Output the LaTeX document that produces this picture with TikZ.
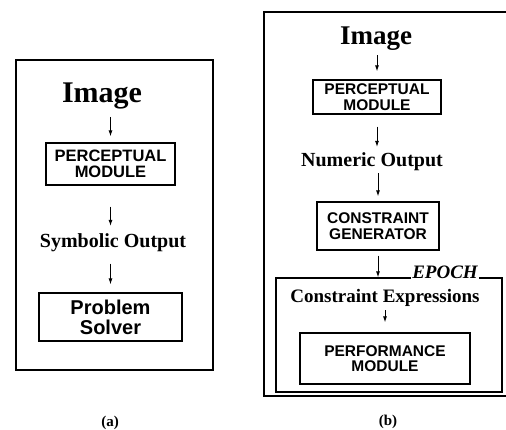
\documentclass[tikz,border=0pt]{standalone}
\usepackage{fontspec}
\setmainfont{Liberation Serif}
\setsansfont{Liberation Sans}
\usepackage{tikz}
\usetikzlibrary{arrows.meta,positioning}
\tikzset{
  mbox/.style={draw=black, line width=1.3pt, align=center, inner sep=0pt, font=\sffamily\bfseries\fontsize{15.5}{15.5}\selectfont},
  flbl/.style={inner sep=1pt, font=\bfseries\fontsize{20}{20}\selectfont},
  ilbl/.style={inner sep=1pt, anchor=base},
  farr/.style={-{Latex[length=6pt,width=4pt]}, line width=0.9pt},
  panel/.style={draw=black, line width=1.1pt}
}

\begin{document}
\begin{tikzpicture}[x=1pt,y=-1pt]
\clip (0,0) rectangle (506,430);
% (a)
\draw[panel] (16,60) rectangle (213,370);
\node[ilbl, font=\bfseries\fontsize{30}{30}\selectfont] (a1) at (102,103) {Image};
\node[mbox, minimum width=129pt, minimum height=42pt, font=\sffamily\bfseries\fontsize{16.5}{16.5}\selectfont] (a2) at (110.5,164) {PERCEPTUAL\\MODULE};
\node[flbl, anchor=base] (a3) at (113,248) {Symbolic Output};
\node[mbox, minimum width=143pt, minimum height=48pt, font=\sffamily\bfseries\fontsize{20}{20}\selectfont] (a4) at (110.5,317) {Problem\\Solver};
\node[font=\bfseries\fontsize{15}{15}\selectfont] (a5) at (110,423) {(a)};
\draw[farr, shorten <=6pt, shorten >=6pt] (a1.south -| a2.north) -- (a2.north);
\draw[farr, shorten <=21pt, shorten >=7pt] (a2.south) -- (a3.north -| a2.south);
\draw[farr, shorten <=10pt, shorten >=8pt] (a3.south -| a4.north) -- (a4.north);
% (b)
\draw[panel] (264,12) rectangle (530,396);
\node[ilbl, font=\bfseries\fontsize{27}{27}\selectfont] (b1) at (376,45) {Image};
\node[mbox, minimum width=128pt, minimum height=34pt] (b2) at (377,97) {PERCEPTUAL\\MODULE};
\node[flbl, anchor=base] (b3) at (372,167) {Numeric Output};
\node[mbox, minimum width=122pt, minimum height=48pt] (b4) at (378,226) {CONSTRAINT\\GENERATOR};
\node[draw=black, line width=1.3pt, minimum width=226pt, minimum height=114pt, inner sep=0pt] (b5) at (389,335) {};
\node[fill=white, inner sep=1pt, anchor=base, font=\bfseries\itshape\fontsize{19}{19}\selectfont] (b6) at (445,279) {EPOCH};
\node[flbl, anchor=base, font=\bfseries\fontsize{19}{19}\selectfont] (b7) at (385,303) {Constraint Expressions};
\node[mbox, minimum width=170pt, minimum height=51pt] (b8) at (385,358.5) {PERFORMANCE\\MODULE};
\node[font=\bfseries\fontsize{15}{15}\selectfont] (b9) at (388,422) {(b)};
\draw[farr, shorten <=3pt, shorten >=8pt] (b1.south -| b2.north) -- (b2.north);
\draw[farr, shorten <=12pt, shorten >=5pt] (b2.south) -- (b3.north -| b2.south);
\draw[farr, shorten <=1pt, shorten >=5pt] (b3.south -| b4.north) -- (b4.north);
\draw[farr, shorten <=5pt] (b4.south) -- (b4.south |- b5.north);
\draw[farr, shorten <=2pt, shorten >=10pt] (b7.south -| b8.north) -- (b8.north);
\end{tikzpicture}
\end{document}
